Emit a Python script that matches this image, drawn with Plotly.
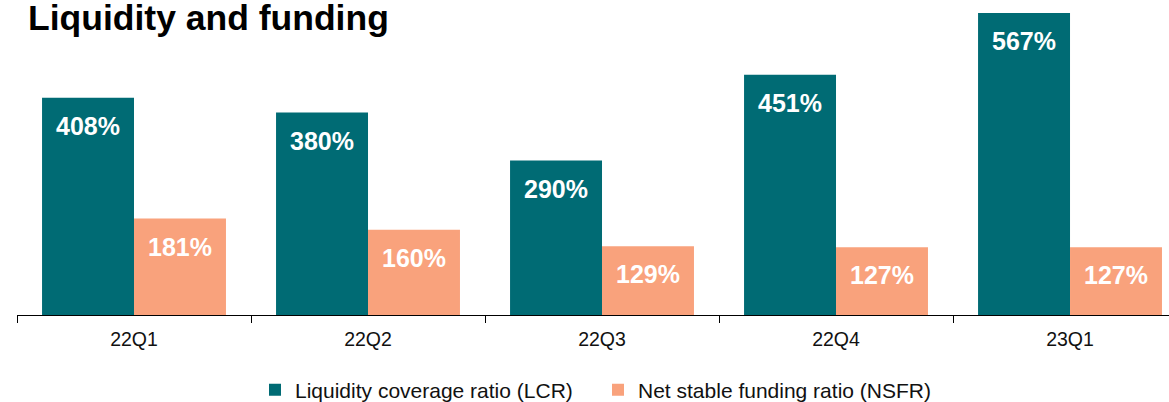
import plotly.graph_objects as go

categories = ["22Q1", "22Q2", "22Q3", "22Q4", "23Q1"]
lcr = [408, 380, 290, 451, 567]
nsfr = [181, 160, 129, 127, 127]
series_names = ["Liquidity coverage ratio (LCR)", "Net stable funding ratio (NSFR)"]
title_text = "Liquidity and funding"

TEAL = "#006B74"
SALMON = "#F9A27C"
FONT = "Liberation Sans, Arial, sans-serif"

fig = go.Figure()
fig.add_trace(go.Bar(x=categories, y=lcr, name=series_names[0], marker=dict(color=TEAL, line=dict(width=0))))
fig.add_trace(go.Bar(x=categories, y=nsfr, name=series_names[1], marker=dict(color=SALMON, line=dict(width=0))))

annotations = []
for c, v in zip(categories, lcr):
    annotations.append(dict(x=c, y=v, xref="x", yref="y", text=f"<b>{v}%</b>", showarrow=False,
                            xshift=-46, yshift=-12, yanchor="top", xanchor="center",
                            font=dict(family=FONT, size=25, color="white")))
for c, v in zip(categories, nsfr):
    annotations.append(dict(x=c, y=v, xref="x", yref="y", text=f"<b>{v}%</b>", showarrow=False,
                            xshift=46, yshift=-12, yanchor="top", xanchor="center",
                            font=dict(family=FONT, size=25, color="white")))

fig.update_layout(
    width=1169, height=402,
    margin=dict(l=17, r=0, t=10, b=87, autoexpand=False),
    paper_bgcolor="white", plot_bgcolor="white",
    barmode="group", bargap=0.214, bargroupgap=0,
    font=dict(family=FONT, color="black"),
    title=dict(text=f"<b>{title_text}</b>", x=28/1169, xanchor="left", xref="container",
               y=0.986, yanchor="top", yref="container",
               font=dict(family=FONT, size=35.5, color="black")),
    showlegend=True,
    legend=dict(orientation="h", x=0.2066, xanchor="left", y=1 - 390/402, yanchor="middle",
                yref="container",
                font=dict(family=FONT, size=21, color="#111111"),
                itemwidth=30, traceorder="normal", entrywidth=298, entrywidthmode="pixels"),
    annotations=annotations,
)
fig.update_xaxes(range=[-0.5, 4.423], showline=True, linecolor="black", linewidth=1.3,
                 ticks="outside", tickson="boundaries", ticklen=7, tickcolor="black", tickwidth=1.3,
                 ticklabelstandoff=6,
                 tickfont=dict(family=FONT, size=19.5, color="#111111"), showgrid=False)
fig.update_yaxes(range=[0, 572.5], visible=False, showgrid=False, zeroline=False)

fig.write_html("out.html", config={"displayModeBar": False},
               post_script="document.body.style.margin='0';")
